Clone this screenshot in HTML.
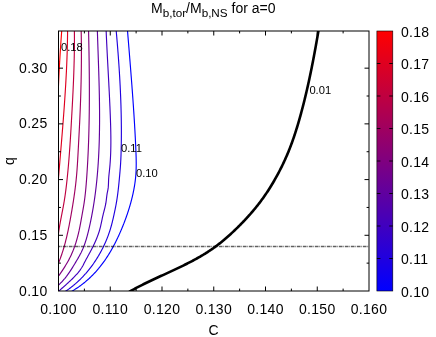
<!DOCTYPE html><html><head><meta charset="utf-8"><style>html,body{margin:0;padding:0;background:#fff}svg{display:block}svg{will-change:transform}text{font-family:"Liberation Sans",sans-serif;fill:#000}</style></head><body>
<svg width="436" height="337" viewBox="0 0 436 337">
<defs><linearGradient id="g" x1="0" y1="1" x2="0" y2="0"><stop offset="0" stop-color="#0000ff"/><stop offset="1" stop-color="#ff0000"/></linearGradient><clipPath id="cp"><rect x="58.50" y="31.00" width="310.50" height="260.00"/></clipPath></defs>
<rect width="436" height="337" fill="#fff"/>
<g fill="none" stroke-width="1.15" clip-path="url(#cp)">
<path d="M61.85 29.00 L61.83 29.30 L61.81 29.59 L61.78 29.89 L61.76 30.19 L61.74 30.48 L61.72 30.78 L61.69 31.08 L61.67 31.37 L61.65 31.67 L61.63 31.96 L61.61 32.26 L61.58 32.56 L61.56 32.85 L61.54 33.15 L61.52 33.45 L61.50 33.74 L61.48 34.04 L61.45 34.34 L61.43 34.63 L61.41 34.93 L61.39 35.23 L61.37 35.52 L61.35 35.82 L61.33 36.12 L61.31 36.41 L61.28 36.71 L61.26 37.01 L61.24 37.30 L61.22 37.60 L61.20 37.89 L61.18 38.19 L61.16 38.49 L61.14 38.78 L61.12 39.08 L61.10 39.38 L61.08 39.67 L61.05 39.97 L61.03 40.27 L61.01 40.56 L60.99 40.86 L60.97 41.16 L60.95 41.45 L60.93 41.75 L60.91 42.05 L60.89 42.34 L60.87 42.64 L60.85 42.93 L60.83 43.23 L60.81 43.53 L60.79 43.82 L60.77 44.12 L60.75 44.42 L60.73 44.71 L60.71 45.01 L60.69 45.31 L60.67 45.60 L60.65 45.90 L60.63 46.20 L60.61 46.49 L60.59 46.79 L60.57 47.09 L60.56 47.38 L60.54 47.68 L60.52 47.97 L60.50 48.27 L60.48 48.57 L60.46 48.86 L60.44 49.16 L60.42 49.46 L60.40 49.75 L60.38 50.05 L60.36 50.35 L60.35 50.64 L60.33 50.94 L60.31 51.24 L60.29 51.53 L60.27 51.83 L60.25 52.13 L60.23 52.42 L60.22 52.72 L60.20 53.02 L60.18 53.31 L60.16 53.61 L60.14 53.90 L60.12 54.20 L60.11 54.50 L60.09 54.79 L60.07 55.09 L60.05 55.39 L60.03 55.68 L60.02 55.98 L60.00 56.28 L59.98 56.57 L59.96 56.87 L59.94 57.17 L59.93 57.46 L59.91 57.76 L59.89 58.06 L59.87 58.35 L59.86 58.65 L59.84 58.94 L59.82 59.24 L59.80 59.54 L59.79 59.83 L59.77 60.13 L59.75 60.43 L59.73 60.72 L59.72 61.02 L59.70 61.32 L59.68 61.61 L59.67 61.91 L59.65 62.21 L59.63 62.50 L59.62 62.80 L59.60 63.10 L59.58 63.39 L59.57 63.69 L59.55 63.98 L59.53 64.28 L59.52 64.58 L59.50 64.87 L59.48 65.17 L59.47 65.47 L59.45 65.76 L59.43 66.06 L59.42 66.36 L59.40 66.65 L59.39 66.95 L59.37 67.25 L59.35 67.54 L59.34 67.84 L59.32 68.14 L59.31 68.43 L59.29 68.73 L59.28 69.03 L59.26 69.32 L59.24 69.62 L59.23 69.91 L59.21 70.21 L59.20 70.51 L59.18 70.80 L59.17 71.10 L59.15 71.40 L59.14 71.69 L59.12 71.99 L59.11 72.29 L59.09 72.58 L59.07 72.88 L59.06 73.18 L59.04 73.47 L59.03 73.77 L59.02 74.07 L59.00 74.36 L58.99 74.66 L58.97 74.95 L58.96 75.25 L58.94 75.55 L58.93 75.84 L58.91 76.14 L58.90 76.44 L58.88 76.73 L58.87 77.03 L58.85 77.33 L58.84 77.62 L58.83 77.92 L58.81 78.22 L58.80 78.51 L58.78 78.81 L58.77 79.11 L58.76 79.40 L58.74 79.70 L58.73 79.99 L58.71 80.29 L58.70 80.59 L58.69 80.88 L58.67 81.18 L58.66 81.48 L58.64 81.77 L58.63 82.07 L58.62 82.37 L58.60 82.66 L58.59 82.96 L58.58 83.26 L58.56 83.55 L58.55 83.85 L58.54 84.15 L58.52 84.44 L58.51 84.74 L58.50 85.04 L58.49 85.33 L58.47 85.63 L58.46 85.92 L58.45 86.22 L58.43 86.52 L58.42 86.81 L58.41 87.11 L58.40 87.41 L58.38 87.70 L58.37 88.00" stroke="#ff0000"/>
<path d="M67.60 29.00 L67.60 29.77 L67.59 30.53 L67.59 31.30 L67.58 32.07 L67.57 32.83 L67.57 33.60 L67.56 34.36 L67.55 35.13 L67.54 35.90 L67.53 36.66 L67.52 37.43 L67.50 38.20 L67.49 38.96 L67.48 39.73 L67.46 40.49 L67.45 41.26 L67.44 42.03 L67.42 42.79 L67.40 43.56 L67.39 44.33 L67.37 45.09 L67.35 45.86 L67.33 46.63 L67.31 47.39 L67.29 48.16 L67.27 48.92 L67.25 49.69 L67.23 50.46 L67.20 51.22 L67.18 51.99 L67.16 52.76 L67.13 53.52 L67.11 54.29 L67.08 55.06 L67.05 55.82 L67.03 56.59 L67.00 57.35 L66.97 58.12 L66.94 58.89 L66.91 59.65 L66.88 60.42 L66.85 61.19 L66.82 61.95 L66.79 62.72 L66.76 63.48 L66.73 64.25 L66.70 65.02 L66.66 65.78 L66.63 66.55 L66.59 67.32 L66.56 68.08 L66.52 68.85 L66.49 69.62 L66.45 70.38 L66.42 71.15 L66.38 71.91 L66.34 72.68 L66.30 73.45 L66.26 74.21 L66.22 74.98 L66.18 75.75 L66.14 76.51 L66.10 77.28 L66.06 78.05 L66.02 78.81 L65.98 79.58 L65.94 80.34 L65.89 81.11 L65.85 81.88 L65.81 82.64 L65.76 83.41 L65.72 84.18 L65.67 84.94 L65.63 85.71 L65.58 86.47 L65.54 87.24 L65.49 88.01 L65.44 88.77 L65.40 89.54 L65.35 90.31 L65.30 91.07 L65.25 91.84 L65.20 92.61 L65.15 93.37 L65.10 94.14 L65.06 94.90 L65.00 95.67 L64.95 96.44 L64.90 97.20 L64.85 97.97 L64.80 98.74 L64.75 99.50 L64.70 100.27 L64.64 101.04 L64.59 101.80 L64.54 102.57 L64.48 103.33 L64.43 104.10 L64.38 104.87 L64.32 105.63 L64.27 106.40 L64.21 107.17 L64.16 107.93 L64.10 108.70 L64.05 109.46 L63.99 110.23 L63.93 111.00 L63.88 111.76 L63.82 112.53 L63.76 113.30 L63.71 114.06 L63.65 114.83 L63.59 115.60 L63.53 116.36 L63.47 117.13 L63.42 117.89 L63.36 118.66 L63.30 119.43 L63.24 120.19 L63.18 120.96 L63.12 121.73 L63.06 122.49 L63.00 123.26 L62.94 124.03 L62.88 124.79 L62.82 125.56 L62.76 126.32 L62.70 127.09 L62.64 127.86 L62.58 128.62 L62.51 129.39 L62.45 130.16 L62.39 130.92 L62.33 131.69 L62.27 132.45 L62.21 133.22 L62.14 133.99 L62.08 134.75 L62.02 135.52 L61.96 136.29 L61.89 137.05 L61.83 137.82 L61.77 138.59 L61.70 139.35 L61.64 140.12 L61.58 140.88 L61.51 141.65 L61.45 142.42 L61.39 143.18 L61.32 143.95 L61.26 144.72 L61.20 145.48 L61.13 146.25 L61.07 147.02 L61.00 147.78 L60.94 148.55 L60.88 149.31 L60.81 150.08 L60.75 150.85 L60.68 151.61 L60.62 152.38 L60.56 153.15 L60.49 153.91 L60.43 154.68 L60.36 155.44 L60.30 156.21 L60.23 156.98 L60.17 157.74 L60.10 158.51 L60.04 159.28 L59.98 160.04 L59.91 160.81 L59.85 161.58 L59.78 162.34 L59.72 163.11 L59.65 163.87 L59.59 164.64 L59.53 165.41 L59.46 166.17 L59.40 166.94 L59.33 167.71 L59.27 168.47 L59.21 169.24 L59.14 170.01 L59.08 170.77 L59.01 171.54 L58.95 172.30 L58.89 173.07 L58.82 173.84 L58.76 174.60 L58.70 175.37 L58.63 176.14 L58.57 176.90 L58.51 177.67 L58.45 178.43 L58.38 179.20 L58.32 179.97 L58.26 180.73 L58.20 181.50" stroke="#df0020"/>
<path d="M74.34 27.82 L74.36 28.52 L74.37 29.23 L74.38 29.93 L74.38 30.63 L74.39 31.34 L74.40 32.04 L74.41 32.74 L74.41 33.45 L74.42 34.15 L74.42 34.86 L74.43 35.56 L74.43 36.27 L74.43 36.97 L74.43 37.67 L74.44 38.38 L74.44 39.08 L74.44 39.79 L74.44 40.49 L74.43 41.20 L74.43 41.90 L74.43 42.61 L74.43 43.31 L74.42 44.02 L74.42 44.72 L74.41 45.43 L74.41 46.13 L74.40 46.84 L74.39 47.54 L74.39 48.25 L74.38 48.95 L74.37 49.66 L74.36 50.36 L74.35 51.07 L74.34 51.77 L74.33 52.48 L74.32 53.18 L74.31 53.89 L74.29 54.59 L74.28 55.30 L74.27 56.01 L74.25 56.71 L74.24 57.42 L74.22 58.12 L74.21 58.83 L74.19 59.53 L74.18 60.24 L74.16 60.95 L74.14 61.65 L74.12 62.36 L74.10 63.06 L74.08 63.77 L74.06 64.47 L74.04 65.18 L74.02 65.89 L74.00 66.59 L73.98 67.30 L73.96 68.00 L73.94 68.71 L73.92 69.42 L73.89 70.12 L73.87 70.83 L73.84 71.53 L73.82 72.24 L73.80 72.95 L73.77 73.65 L73.74 74.36 L73.72 75.07 L73.69 75.77 L73.67 76.48 L73.64 77.18 L73.61 77.89 L73.58 78.60 L73.55 79.30 L73.53 80.01 L73.50 80.72 L73.47 81.42 L73.44 82.13 L73.41 82.83 L73.38 83.54 L73.35 84.25 L73.32 84.95 L73.29 85.66 L73.25 86.37 L73.22 87.07 L73.19 87.78 L73.16 88.48 L73.12 89.19 L73.09 89.90 L73.06 90.60 L73.03 91.31 L72.99 92.02 L72.96 92.72 L72.92 93.43 L72.89 94.14 L72.85 94.84 L72.82 95.55 L72.78 96.25 L72.75 96.96 L72.71 97.67 L72.68 98.37 L72.64 99.08 L72.60 99.79 L72.57 100.49 L72.53 101.20 L72.49 101.90 L72.46 102.61 L72.42 103.32 L72.38 104.02 L72.34 104.73 L72.31 105.44 L72.27 106.14 L72.23 106.85 L72.19 107.55 L72.15 108.26 L72.12 108.97 L72.08 109.67 L72.04 110.38 L72.00 111.08 L71.96 111.79 L71.92 112.50 L71.88 113.20 L71.84 113.91 L71.80 114.61 L71.76 115.32 L71.72 116.03 L71.68 116.73 L71.64 117.44 L71.60 118.14 L71.56 118.85 L71.52 119.56 L71.48 120.26 L71.44 120.97 L71.40 121.67 L71.36 122.38 L71.32 123.08 L71.28 123.79 L71.24 124.50 L71.20 125.20 L71.16 125.91 L71.12 126.61 L71.08 127.32 L71.04 128.02 L71.00 128.73 L70.96 129.43 L70.91 130.14 L70.87 130.84 L70.83 131.55 L70.79 132.25 L70.74 132.96 L70.70 133.66 L70.66 134.37 L70.62 135.07 L70.57 135.78 L70.53 136.48 L70.49 137.19 L70.44 137.89 L70.40 138.60 L70.35 139.30 L70.31 140.01 L70.26 140.71 L70.22 141.42 L70.17 142.12 L70.12 142.83 L70.08 143.53 L70.03 144.23 L69.98 144.94 L69.94 145.64 L69.89 146.35 L69.84 147.05 L69.79 147.76 L69.74 148.46 L69.69 149.16 L69.64 149.87 L69.59 150.57 L69.54 151.28 L69.49 151.98 L69.44 152.68 L69.39 153.39 L69.34 154.09 L69.28 154.79 L69.23 155.50 L69.18 156.20 L69.12 156.90 L69.07 157.61 L69.01 158.31 L68.96 159.01 L68.90 159.72 L68.84 160.42 L68.79 161.12 L68.73 161.82 L68.67 162.53 L68.61 163.23 L68.55 163.93 L68.49 164.64 L68.43 165.34 L68.37 166.04 L68.31 166.74 L68.24 167.45 L68.18 168.15 L68.12 168.85 L68.05 169.55 L67.99 170.25 L67.92 170.96 L67.86 171.66 L67.79 172.36 L67.72 173.06 L67.65 173.76 L67.58 174.46 L67.51 175.17 L67.44 175.87 L67.37 176.57 L67.30 177.27 L67.23 177.97 L67.16 178.67 L67.08 179.37 L67.01 180.07 L66.93 180.77 L66.85 181.47 L66.78 182.17 L66.70 182.88 L66.62 183.58 L66.54 184.28 L66.46 184.98 L66.38 185.68 L66.29 186.38 L66.21 187.08 L66.12 187.78 L66.04 188.48 L65.95 189.18 L65.86 189.87 L65.77 190.57 L65.68 191.27 L65.58 191.97 L65.49 192.67 L65.39 193.37 L65.30 194.07 L65.20 194.77 L65.10 195.47 L65.00 196.17 L64.89 196.86 L64.79 197.56 L64.68 198.26 L64.57 198.96 L64.46 199.66 L64.35 200.36 L64.23 201.05 L64.12 201.75 L64.00 202.45 L63.88 203.15 L63.76 203.84 L63.63 204.54 L63.51 205.24 L63.38 205.94 L63.26 206.63 L63.13 207.33 L63.00 208.03 L62.86 208.72 L62.73 209.42 L62.60 210.12 L62.46 210.81 L62.33 211.51 L62.20 212.21 L62.06 212.90 L61.93 213.60 L61.79 214.29 L61.65 214.99 L61.52 215.68 L61.38 216.38 L61.25 217.07 L61.12 217.77 L60.98 218.46 L60.85 219.16 L60.72 219.85 L60.59 220.55 L60.46 221.24 L60.33 221.94 L60.20 222.63 L60.08 223.33 L59.95 224.02 L59.83 224.71 L59.71 225.41 L59.59 226.10 L59.47 226.79 L59.36 227.49 L59.25 228.18 L59.14 228.87 L59.03 229.57 L58.93 230.26 L58.83 230.95 L58.73 231.65 L58.63 232.34 L58.54 233.03 L58.45 233.72 L58.36 234.41 L58.28 235.11 L58.20 235.80 L58.13 236.49 L58.05 237.18 L57.99 237.87" stroke="#bf0040"/>
<path d="M81.11 27.85 L81.13 28.65 L81.15 29.45 L81.17 30.25 L81.18 31.05 L81.20 31.85 L81.21 32.65 L81.23 33.45 L81.24 34.25 L81.26 35.05 L81.27 35.85 L81.28 36.66 L81.30 37.46 L81.31 38.26 L81.32 39.06 L81.33 39.86 L81.34 40.66 L81.35 41.47 L81.36 42.27 L81.36 43.07 L81.37 43.87 L81.38 44.67 L81.38 45.48 L81.39 46.28 L81.39 47.08 L81.40 47.89 L81.40 48.69 L81.41 49.49 L81.41 50.30 L81.41 51.10 L81.41 51.90 L81.41 52.71 L81.41 53.51 L81.41 54.32 L81.41 55.12 L81.41 55.92 L81.41 56.73 L81.41 57.53 L81.40 58.34 L81.40 59.14 L81.40 59.95 L81.39 60.75 L81.39 61.56 L81.38 62.36 L81.38 63.17 L81.37 63.97 L81.36 64.78 L81.35 65.59 L81.35 66.39 L81.34 67.20 L81.33 68.00 L81.32 68.81 L81.31 69.62 L81.30 70.42 L81.29 71.23 L81.28 72.03 L81.26 72.84 L81.25 73.65 L81.24 74.45 L81.22 75.26 L81.21 76.07 L81.19 76.87 L81.18 77.68 L81.16 78.49 L81.15 79.29 L81.13 80.10 L81.11 80.91 L81.10 81.72 L81.08 82.52 L81.06 83.33 L81.04 84.14 L81.02 84.94 L81.00 85.75 L80.98 86.56 L80.96 87.37 L80.94 88.17 L80.92 88.98 L80.90 89.79 L80.87 90.60 L80.85 91.40 L80.83 92.21 L80.80 93.02 L80.78 93.83 L80.75 94.64 L80.73 95.44 L80.70 96.25 L80.68 97.06 L80.65 97.87 L80.62 98.67 L80.60 99.48 L80.57 100.29 L80.54 101.10 L80.51 101.91 L80.48 102.71 L80.45 103.52 L80.42 104.33 L80.39 105.14 L80.36 105.95 L80.33 106.75 L80.30 107.56 L80.27 108.37 L80.24 109.18 L80.20 109.99 L80.17 110.79 L80.14 111.60 L80.10 112.41 L80.07 113.22 L80.03 114.03 L80.00 114.83 L79.96 115.64 L79.93 116.45 L79.89 117.26 L79.86 118.07 L79.82 118.87 L79.78 119.68 L79.74 120.49 L79.71 121.30 L79.67 122.10 L79.63 122.91 L79.59 123.72 L79.55 124.53 L79.51 125.33 L79.47 126.14 L79.43 126.95 L79.39 127.76 L79.35 128.56 L79.31 129.37 L79.27 130.18 L79.23 130.98 L79.19 131.79 L79.15 132.60 L79.10 133.41 L79.06 134.21 L79.02 135.02 L78.98 135.83 L78.94 136.63 L78.89 137.44 L78.85 138.25 L78.81 139.05 L78.77 139.86 L78.72 140.66 L78.68 141.47 L78.64 142.28 L78.59 143.08 L78.55 143.89 L78.51 144.69 L78.47 145.50 L78.42 146.31 L78.38 147.11 L78.34 147.92 L78.29 148.72 L78.25 149.53 L78.21 150.33 L78.17 151.14 L78.12 151.94 L78.08 152.75 L78.04 153.55 L77.99 154.36 L77.95 155.16 L77.90 155.97 L77.86 156.77 L77.81 157.57 L77.77 158.38 L77.72 159.18 L77.68 159.99 L77.63 160.79 L77.58 161.59 L77.53 162.40 L77.48 163.20 L77.43 164.00 L77.38 164.81 L77.32 165.61 L77.27 166.41 L77.21 167.21 L77.16 168.02 L77.10 168.82 L77.04 169.62 L76.98 170.42 L76.92 171.22 L76.86 172.03 L76.79 172.83 L76.73 173.63 L76.66 174.43 L76.59 175.23 L76.52 176.03 L76.44 176.83 L76.37 177.63 L76.29 178.43 L76.21 179.23 L76.13 180.03 L76.05 180.83 L75.97 181.63 L75.88 182.43 L75.79 183.23 L75.70 184.03 L75.61 184.83 L75.52 185.63 L75.42 186.43 L75.32 187.23 L75.22 188.03 L75.12 188.82 L75.02 189.62 L74.92 190.42 L74.81 191.22 L74.70 192.01 L74.59 192.81 L74.48 193.61 L74.37 194.40 L74.26 195.20 L74.14 196.00 L74.03 196.79 L73.91 197.59 L73.79 198.38 L73.67 199.18 L73.55 199.98 L73.43 200.77 L73.31 201.57 L73.18 202.36 L73.05 203.15 L72.93 203.95 L72.80 204.74 L72.67 205.54 L72.54 206.33 L72.41 207.12 L72.28 207.91 L72.14 208.71 L72.01 209.50 L71.88 210.29 L71.74 211.08 L71.60 211.88 L71.47 212.67 L71.33 213.46 L71.19 214.25 L71.05 215.04 L70.91 215.83 L70.77 216.62 L70.63 217.41 L70.49 218.20 L70.34 218.99 L70.20 219.78 L70.06 220.57 L69.91 221.36 L69.76 222.14 L69.61 222.93 L69.46 223.72 L69.31 224.51 L69.16 225.30 L69.00 226.08 L68.85 226.87 L68.69 227.66 L68.53 228.44 L68.37 229.23 L68.21 230.01 L68.04 230.80 L67.87 231.58 L67.70 232.37 L67.53 233.15 L67.36 233.94 L67.18 234.72 L67.00 235.50 L66.82 236.29 L66.64 237.07 L66.45 237.85 L66.26 238.63 L66.07 239.42 L65.87 240.20 L65.68 240.98 L65.47 241.76 L65.27 242.54 L65.06 243.32 L64.85 244.10 L64.64 244.88 L64.42 245.66 L64.20 246.44 L63.98 247.22 L63.75 248.00 L63.52 248.77 L63.28 249.55 L63.04 250.33 L62.80 251.11 L62.56 251.88 L62.30 252.66 L62.05 253.44 L61.79 254.21 L61.53 254.99 L61.26 255.76 L60.99 256.54 L60.71 257.31 L60.43 258.08 L60.15 258.86 L59.86 259.63 L59.56 260.40 L59.26 261.18 L58.96 261.95 L58.65 262.72 L58.33 263.49 L58.01 264.26 L57.69 265.03 L57.36 265.80 L57.02 266.57" stroke="#9f0060"/>
<path d="M88.51 27.94 L88.52 28.79 L88.54 29.63 L88.56 30.48 L88.58 31.32 L88.60 32.17 L88.62 33.02 L88.64 33.87 L88.65 34.71 L88.67 35.56 L88.69 36.41 L88.71 37.26 L88.73 38.11 L88.74 38.96 L88.76 39.81 L88.78 40.66 L88.80 41.51 L88.81 42.36 L88.83 43.22 L88.85 44.07 L88.86 44.92 L88.88 45.77 L88.89 46.63 L88.91 47.48 L88.93 48.34 L88.94 49.19 L88.96 50.04 L88.97 50.90 L88.99 51.75 L89.00 52.61 L89.02 53.47 L89.03 54.32 L89.04 55.18 L89.06 56.04 L89.07 56.89 L89.08 57.75 L89.10 58.61 L89.11 59.47 L89.12 60.32 L89.14 61.18 L89.15 62.04 L89.16 62.90 L89.17 63.76 L89.18 64.62 L89.19 65.48 L89.20 66.34 L89.21 67.20 L89.22 68.06 L89.23 68.92 L89.24 69.78 L89.25 70.65 L89.26 71.51 L89.27 72.37 L89.28 73.23 L89.29 74.09 L89.29 74.96 L89.30 75.82 L89.31 76.68 L89.32 77.54 L89.32 78.41 L89.33 79.27 L89.33 80.13 L89.34 81.00 L89.34 81.86 L89.35 82.73 L89.35 83.59 L89.36 84.45 L89.36 85.32 L89.36 86.18 L89.37 87.05 L89.37 87.91 L89.37 88.78 L89.37 89.64 L89.37 90.51 L89.37 91.38 L89.37 92.24 L89.37 93.11 L89.37 93.97 L89.37 94.84 L89.37 95.71 L89.37 96.57 L89.37 97.44 L89.36 98.30 L89.36 99.17 L89.36 100.04 L89.35 100.90 L89.35 101.77 L89.34 102.64 L89.34 103.50 L89.33 104.37 L89.33 105.24 L89.32 106.11 L89.31 106.97 L89.30 107.84 L89.30 108.71 L89.29 109.57 L89.28 110.44 L89.27 111.31 L89.26 112.18 L89.25 113.04 L89.24 113.91 L89.22 114.78 L89.21 115.65 L89.20 116.51 L89.19 117.38 L89.17 118.25 L89.16 119.12 L89.14 119.98 L89.13 120.85 L89.11 121.72 L89.09 122.59 L89.08 123.45 L89.06 124.32 L89.04 125.19 L89.02 126.05 L89.00 126.92 L88.98 127.79 L88.96 128.66 L88.94 129.52 L88.92 130.39 L88.90 131.26 L88.87 132.12 L88.85 132.99 L88.83 133.86 L88.80 134.72 L88.77 135.59 L88.75 136.46 L88.72 137.32 L88.69 138.19 L88.67 139.05 L88.64 139.92 L88.61 140.79 L88.58 141.65 L88.55 142.52 L88.52 143.38 L88.48 144.25 L88.45 145.11 L88.42 145.98 L88.38 146.84 L88.35 147.71 L88.32 148.57 L88.28 149.44 L88.24 150.30 L88.21 151.16 L88.17 152.03 L88.13 152.89 L88.09 153.76 L88.05 154.62 L88.01 155.48 L87.97 156.34 L87.92 157.21 L87.88 158.07 L87.84 158.93 L87.79 159.79 L87.75 160.66 L87.70 161.52 L87.65 162.38 L87.61 163.24 L87.56 164.10 L87.51 164.96 L87.46 165.82 L87.41 166.68 L87.36 167.54 L87.30 168.40 L87.25 169.26 L87.20 170.12 L87.14 170.98 L87.09 171.84 L87.03 172.70 L86.98 173.56 L86.92 174.41 L86.86 175.27 L86.80 176.13 L86.74 176.99 L86.68 177.84 L86.62 178.70 L86.55 179.56 L86.49 180.41 L86.43 181.27 L86.36 182.12 L86.29 182.98 L86.22 183.83 L86.16 184.69 L86.08 185.54 L86.01 186.39 L85.94 187.25 L85.86 188.10 L85.78 188.95 L85.70 189.80 L85.62 190.66 L85.54 191.51 L85.45 192.36 L85.36 193.21 L85.27 194.06 L85.17 194.91 L85.07 195.76 L84.97 196.61 L84.87 197.46 L84.76 198.30 L84.65 199.15 L84.54 200.00 L84.42 200.85 L84.30 201.69 L84.17 202.54 L84.05 203.39 L83.91 204.23 L83.78 205.08 L83.64 205.92 L83.50 206.76 L83.35 207.61 L83.21 208.45 L83.06 209.29 L82.91 210.14 L82.76 210.98 L82.61 211.82 L82.46 212.66 L82.31 213.50 L82.16 214.34 L82.01 215.18 L81.86 216.02 L81.71 216.86 L81.56 217.69 L81.41 218.53 L81.26 219.37 L81.11 220.20 L80.96 221.04 L80.81 221.87 L80.65 222.71 L80.50 223.54 L80.34 224.38 L80.18 225.21 L80.02 226.04 L79.86 226.88 L79.69 227.71 L79.52 228.54 L79.34 229.37 L79.17 230.20 L78.98 231.03 L78.80 231.86 L78.61 232.68 L78.41 233.51 L78.21 234.34 L78.01 235.16 L77.80 235.99 L77.59 236.81 L77.37 237.63 L77.15 238.46 L76.92 239.28 L76.68 240.10 L76.44 240.92 L76.20 241.74 L75.95 242.55 L75.69 243.37 L75.42 244.18 L75.15 245.00 L74.88 245.81 L74.59 246.62 L74.30 247.43 L74.00 248.23 L73.70 249.04 L73.39 249.85 L73.07 250.65 L72.74 251.45 L72.41 252.25 L72.07 253.05 L71.72 253.85 L71.36 254.64 L70.99 255.43 L70.62 256.23 L70.24 257.01 L69.84 257.80 L69.44 258.59 L69.04 259.37 L68.62 260.15 L68.20 260.93 L67.77 261.71 L67.33 262.49 L66.89 263.26 L66.43 264.03 L65.98 264.80 L65.51 265.57 L65.04 266.33 L64.57 267.09 L64.09 267.85 L63.60 268.61 L63.11 269.36 L62.62 270.12 L62.12 270.87 L61.61 271.61 L61.10 272.36 L60.59 273.10 L60.07 273.84 L59.56 274.57 L59.03 275.31 L58.51 276.04 L57.98 276.77 L57.45 277.49 L56.92 278.21 L56.38 278.93 L55.84 279.65" stroke="#80007f"/>
<path d="M97.29 27.99 L97.31 28.87 L97.34 29.76 L97.37 30.64 L97.39 31.52 L97.42 32.41 L97.45 33.30 L97.48 34.18 L97.51 35.07 L97.53 35.96 L97.56 36.84 L97.59 37.73 L97.62 38.62 L97.65 39.51 L97.68 40.40 L97.71 41.29 L97.74 42.18 L97.77 43.07 L97.80 43.96 L97.83 44.86 L97.86 45.75 L97.89 46.64 L97.92 47.54 L97.95 48.43 L97.98 49.32 L98.01 50.22 L98.05 51.11 L98.08 52.01 L98.11 52.91 L98.14 53.80 L98.17 54.70 L98.20 55.60 L98.23 56.49 L98.26 57.39 L98.29 58.29 L98.32 59.19 L98.35 60.09 L98.38 60.99 L98.41 61.89 L98.44 62.79 L98.47 63.69 L98.50 64.59 L98.53 65.49 L98.56 66.39 L98.59 67.29 L98.62 68.19 L98.65 69.09 L98.68 70.00 L98.71 70.90 L98.74 71.80 L98.77 72.71 L98.79 73.61 L98.82 74.51 L98.85 75.42 L98.87 76.32 L98.90 77.23 L98.93 78.13 L98.95 79.04 L98.98 79.94 L99.00 80.85 L99.03 81.75 L99.05 82.66 L99.08 83.57 L99.10 84.47 L99.12 85.38 L99.15 86.29 L99.17 87.19 L99.19 88.10 L99.21 89.01 L99.23 89.92 L99.25 90.82 L99.27 91.73 L99.29 92.64 L99.31 93.55 L99.33 94.46 L99.35 95.36 L99.37 96.27 L99.38 97.18 L99.40 98.09 L99.41 99.00 L99.43 99.91 L99.44 100.82 L99.46 101.73 L99.47 102.64 L99.48 103.55 L99.49 104.46 L99.50 105.37 L99.51 106.28 L99.52 107.19 L99.53 108.10 L99.54 109.01 L99.55 109.92 L99.55 110.83 L99.56 111.74 L99.56 112.65 L99.57 113.56 L99.57 114.47 L99.57 115.38 L99.58 116.29 L99.58 117.20 L99.58 118.11 L99.57 119.02 L99.57 119.93 L99.57 120.84 L99.57 121.75 L99.56 122.66 L99.56 123.57 L99.55 124.48 L99.54 125.39 L99.53 126.30 L99.52 127.21 L99.51 128.12 L99.50 129.03 L99.49 129.94 L99.48 130.85 L99.46 131.76 L99.45 132.67 L99.43 133.58 L99.41 134.48 L99.39 135.39 L99.37 136.30 L99.35 137.21 L99.33 138.12 L99.31 139.03 L99.28 139.94 L99.26 140.85 L99.23 141.75 L99.20 142.66 L99.17 143.57 L99.14 144.48 L99.11 145.39 L99.08 146.29 L99.04 147.20 L99.01 148.11 L98.97 149.01 L98.93 149.92 L98.89 150.83 L98.85 151.73 L98.81 152.64 L98.77 153.55 L98.72 154.45 L98.67 155.36 L98.63 156.26 L98.58 157.17 L98.53 158.07 L98.48 158.98 L98.42 159.88 L98.37 160.78 L98.31 161.69 L98.26 162.59 L98.20 163.50 L98.14 164.40 L98.07 165.30 L98.01 166.20 L97.95 167.10 L97.88 168.01 L97.81 168.91 L97.74 169.81 L97.67 170.71 L97.60 171.61 L97.52 172.51 L97.45 173.41 L97.37 174.31 L97.29 175.21 L97.21 176.11 L97.13 177.00 L97.04 177.90 L96.96 178.80 L96.87 179.70 L96.78 180.59 L96.69 181.49 L96.60 182.39 L96.50 183.28 L96.41 184.18 L96.31 185.07 L96.21 185.97 L96.11 186.86 L96.01 187.75 L95.90 188.65 L95.79 189.54 L95.68 190.43 L95.57 191.32 L95.46 192.21 L95.35 193.11 L95.23 194.00 L95.11 194.89 L94.99 195.77 L94.87 196.66 L94.75 197.55 L94.62 198.44 L94.49 199.33 L94.36 200.21 L94.23 201.10 L94.10 201.99 L93.96 202.87 L93.82 203.76 L93.68 204.64 L93.54 205.52 L93.40 206.41 L93.25 207.29 L93.11 208.17 L92.95 209.05 L92.80 209.94 L92.65 210.82 L92.49 211.70 L92.33 212.57 L92.17 213.45 L92.01 214.33 L91.84 215.21 L91.68 216.09 L91.51 216.96 L91.34 217.84 L91.16 218.71 L90.99 219.59 L90.81 220.46 L90.63 221.33 L90.44 222.21 L90.26 223.08 L90.07 223.95 L89.88 224.82 L89.69 225.69 L89.49 226.56 L89.30 227.43 L89.10 228.29 L88.90 229.16 L88.69 230.03 L88.48 230.89 L88.27 231.76 L88.06 232.62 L87.84 233.48 L87.62 234.35 L87.40 235.21 L87.17 236.07 L86.93 236.93 L86.69 237.78 L86.44 238.64 L86.19 239.50 L85.93 240.35 L85.66 241.20 L85.38 242.05 L85.10 242.90 L84.81 243.75 L84.51 244.59 L84.20 245.44 L83.88 246.28 L83.55 247.12 L83.21 247.96 L82.86 248.80 L82.49 249.63 L82.12 250.46 L81.73 251.29 L81.34 252.12 L80.93 252.95 L80.50 253.77 L80.07 254.59 L79.63 255.41 L79.18 256.22 L78.72 257.04 L78.26 257.85 L77.80 258.66 L77.33 259.46 L76.85 260.26 L76.38 261.06 L75.91 261.86 L75.44 262.65 L74.97 263.44 L74.50 264.23 L74.02 265.01 L73.55 265.79 L73.08 266.57 L72.60 267.34 L72.12 268.12 L71.64 268.88 L71.15 269.65 L70.66 270.41 L70.16 271.16 L69.66 271.91 L69.15 272.66 L68.63 273.41 L68.10 274.15 L67.57 274.89 L67.03 275.62 L66.48 276.35 L65.91 277.07 L65.34 277.79 L64.76 278.51 L64.16 279.22 L63.55 279.93 L62.93 280.63 L62.29 281.33 L61.64 282.02 L60.98 282.71 L60.30 283.40 L59.60 284.08 L58.88 284.75 L58.15 285.42 L57.40 286.09 L56.63 286.75 L55.85 287.40 L55.04 288.05" stroke="#60009f"/>
<path d="M106.04 28.02 L106.08 28.93 L106.12 29.85 L106.15 30.76 L106.19 31.68 L106.23 32.60 L106.27 33.51 L106.30 34.43 L106.34 35.35 L106.38 36.27 L106.42 37.19 L106.47 38.11 L106.51 39.03 L106.55 39.95 L106.59 40.88 L106.64 41.80 L106.68 42.72 L106.72 43.65 L106.77 44.57 L106.81 45.50 L106.86 46.42 L106.90 47.35 L106.95 48.27 L106.99 49.20 L107.04 50.13 L107.09 51.06 L107.13 51.99 L107.18 52.91 L107.23 53.84 L107.28 54.77 L107.32 55.70 L107.37 56.63 L107.42 57.57 L107.47 58.50 L107.52 59.43 L107.57 60.36 L107.62 61.29 L107.67 62.23 L107.72 63.16 L107.77 64.09 L107.82 65.03 L107.87 65.96 L107.92 66.90 L107.97 67.83 L108.02 68.77 L108.07 69.70 L108.12 70.64 L108.17 71.58 L108.22 72.51 L108.27 73.45 L108.32 74.39 L108.37 75.33 L108.42 76.26 L108.47 77.20 L108.52 78.14 L108.57 79.08 L108.62 80.02 L108.67 80.96 L108.72 81.90 L108.77 82.84 L108.82 83.78 L108.86 84.72 L108.91 85.66 L108.96 86.60 L109.01 87.54 L109.06 88.48 L109.11 89.42 L109.15 90.36 L109.20 91.31 L109.25 92.25 L109.30 93.19 L109.34 94.13 L109.39 95.07 L109.44 96.02 L109.48 96.96 L109.53 97.90 L109.57 98.84 L109.62 99.79 L109.66 100.73 L109.70 101.67 L109.75 102.62 L109.79 103.56 L109.83 104.50 L109.87 105.45 L109.92 106.39 L109.96 107.33 L110.00 108.28 L110.04 109.22 L110.08 110.16 L110.11 111.11 L110.15 112.05 L110.19 112.99 L110.23 113.94 L110.26 114.88 L110.30 115.83 L110.33 116.77 L110.37 117.71 L110.40 118.66 L110.44 119.60 L110.47 120.54 L110.50 121.49 L110.53 122.43 L110.56 123.37 L110.59 124.32 L110.62 125.26 L110.65 126.20 L110.67 127.14 L110.70 128.09 L110.72 129.03 L110.74 129.97 L110.76 130.92 L110.78 131.86 L110.80 132.80 L110.81 133.74 L110.83 134.68 L110.84 135.63 L110.85 136.57 L110.86 137.51 L110.87 138.45 L110.87 139.39 L110.87 140.33 L110.87 141.27 L110.87 142.21 L110.87 143.15 L110.86 144.09 L110.85 145.03 L110.84 145.97 L110.83 146.91 L110.81 147.85 L110.79 148.79 L110.77 149.73 L110.75 150.67 L110.72 151.61 L110.69 152.54 L110.66 153.48 L110.62 154.42 L110.58 155.35 L110.54 156.29 L110.49 157.23 L110.44 158.16 L110.39 159.10 L110.33 160.03 L110.27 160.97 L110.21 161.90 L110.14 162.84 L110.07 163.77 L110.00 164.70 L109.92 165.64 L109.83 166.57 L109.75 167.50 L109.66 168.43 L109.56 169.37 L109.47 170.30 L109.37 171.23 L109.26 172.16 L109.16 173.09 L109.07 174.02 L108.97 174.95 L108.88 175.87 L108.80 176.80 L108.73 177.73 L108.67 178.66 L108.61 179.58 L108.57 180.51 L108.54 181.44 L108.51 182.36 L108.48 183.28 L108.45 184.21 L108.40 185.13 L108.35 186.06 L108.27 186.98 L108.18 187.90 L108.05 188.82 L107.90 189.74 L107.72 190.66 L107.52 191.58 L107.33 192.50 L107.16 193.42 L107.01 194.34 L106.88 195.25 L106.76 196.17 L106.65 197.09 L106.54 198.00 L106.43 198.92 L106.32 199.83 L106.21 200.74 L106.08 201.66 L105.94 202.57 L105.79 203.48 L105.61 204.39 L105.43 205.30 L105.23 206.21 L105.02 207.12 L104.80 208.03 L104.57 208.94 L104.34 209.84 L104.11 210.75 L103.88 211.65 L103.64 212.56 L103.41 213.46 L103.19 214.36 L102.97 215.27 L102.76 216.17 L102.56 217.07 L102.37 217.97 L102.17 218.87 L101.99 219.77 L101.80 220.66 L101.61 221.56 L101.43 222.46 L101.24 223.35 L101.04 224.24 L100.84 225.14 L100.64 226.03 L100.43 226.92 L100.21 227.81 L99.98 228.70 L99.73 229.59 L99.48 230.48 L99.21 231.37 L98.93 232.25 L98.64 233.14 L98.34 234.02 L98.02 234.91 L97.70 235.79 L97.37 236.67 L97.02 237.55 L96.67 238.42 L96.31 239.30 L95.94 240.17 L95.56 241.04 L95.17 241.91 L94.78 242.78 L94.38 243.65 L93.97 244.51 L93.55 245.37 L93.13 246.23 L92.71 247.09 L92.28 247.94 L91.84 248.79 L91.40 249.64 L90.96 250.49 L90.51 251.33 L90.07 252.17 L89.61 253.01 L89.16 253.85 L88.70 254.68 L88.25 255.51 L87.80 256.33 L87.35 257.16 L86.90 257.98 L86.45 258.79 L86.02 259.60 L85.58 260.41 L85.16 261.22 L84.74 262.02 L84.34 262.82 L83.94 263.61 L83.54 264.40 L83.14 265.18 L82.72 265.96 L82.27 266.74 L81.81 267.51 L81.32 268.28 L80.80 269.05 L80.27 269.80 L79.72 270.56 L79.14 271.31 L78.55 272.05 L77.95 272.79 L77.32 273.53 L76.69 274.26 L76.04 274.99 L75.37 275.71 L74.70 276.42 L74.02 277.13 L73.32 277.83 L72.62 278.53 L71.92 279.23 L71.20 279.91 L70.49 280.60 L69.77 281.27 L69.04 281.94 L68.32 282.61 L67.60 283.26 L66.88 283.92 L66.16 284.56 L65.44 285.20 L64.73 285.84 L64.02 286.46 L63.32 287.08 L62.63 287.70 L61.94 288.30 L61.27 288.91 L60.61 289.50 L59.96 290.09 L59.32 290.67 L58.70 291.24 L58.09 291.80 L57.50 292.36" stroke="#4000bf"/>
<path d="M115.95 28.04 L116.04 28.95 L116.12 29.87 L116.20 30.79 L116.28 31.71 L116.37 32.63 L116.45 33.55 L116.53 34.47 L116.61 35.40 L116.69 36.32 L116.77 37.24 L116.85 38.17 L116.93 39.09 L117.01 40.02 L117.08 40.95 L117.16 41.87 L117.24 42.80 L117.32 43.73 L117.39 44.66 L117.47 45.59 L117.54 46.52 L117.62 47.45 L117.69 48.38 L117.77 49.32 L117.84 50.25 L117.91 51.18 L117.98 52.12 L118.06 53.05 L118.13 53.99 L118.20 54.92 L118.27 55.86 L118.34 56.80 L118.40 57.74 L118.47 58.67 L118.54 59.61 L118.61 60.55 L118.67 61.49 L118.74 62.43 L118.80 63.37 L118.87 64.31 L118.93 65.26 L119.00 66.20 L119.06 67.14 L119.12 68.08 L119.18 69.03 L119.24 69.97 L119.30 70.92 L119.36 71.86 L119.42 72.81 L119.48 73.75 L119.53 74.70 L119.59 75.64 L119.65 76.59 L119.70 77.54 L119.75 78.49 L119.81 79.43 L119.86 80.38 L119.91 81.33 L119.96 82.28 L120.01 83.23 L120.06 84.18 L120.11 85.13 L120.16 86.08 L120.21 87.03 L120.25 87.98 L120.30 88.93 L120.34 89.88 L120.39 90.83 L120.43 91.78 L120.47 92.74 L120.51 93.69 L120.55 94.64 L120.59 95.59 L120.63 96.54 L120.67 97.50 L120.71 98.45 L120.74 99.40 L120.78 100.36 L120.81 101.31 L120.84 102.26 L120.88 103.22 L120.91 104.17 L120.94 105.13 L120.97 106.08 L120.99 107.03 L121.02 107.99 L121.05 108.94 L121.07 109.90 L121.10 110.85 L121.12 111.81 L121.14 112.76 L121.17 113.72 L121.19 114.67 L121.21 115.63 L121.22 116.58 L121.24 117.54 L121.26 118.49 L121.27 119.45 L121.29 120.40 L121.30 121.36 L121.31 122.31 L121.32 123.27 L121.33 124.22 L121.34 125.17 L121.35 126.13 L121.36 127.08 L121.36 128.04 L121.37 128.99 L121.37 129.95 L121.37 130.90 L121.37 131.86 L121.37 132.81 L121.37 133.76 L121.37 134.72 L121.36 135.67 L121.36 136.62 L121.35 137.58 L121.34 138.53 L121.34 139.48 L121.33 140.43 L121.31 141.39 L121.30 142.34 L121.29 143.29 L121.27 144.24 L121.26 145.19 L121.24 146.15 L121.22 147.10 L121.20 148.05 L121.18 149.00 L121.16 149.95 L121.13 150.90 L121.11 151.85 L121.08 152.80 L121.05 153.75 L121.02 154.70 L120.99 155.64 L120.95 156.59 L120.91 157.54 L120.87 158.49 L120.83 159.43 L120.78 160.38 L120.73 161.33 L120.67 162.27 L120.62 163.22 L120.56 164.16 L120.49 165.11 L120.43 166.05 L120.36 167.00 L120.29 167.94 L120.21 168.88 L120.13 169.83 L120.06 170.77 L119.98 171.71 L119.90 172.65 L119.81 173.59 L119.73 174.53 L119.65 175.47 L119.56 176.41 L119.48 177.35 L119.39 178.29 L119.31 179.22 L119.22 180.16 L119.13 181.10 L119.04 182.03 L118.95 182.97 L118.86 183.90 L118.76 184.84 L118.67 185.77 L118.57 186.71 L118.47 187.64 L118.36 188.57 L118.26 189.50 L118.15 190.43 L118.04 191.36 L117.93 192.29 L117.81 193.22 L117.69 194.15 L117.56 195.07 L117.44 196.00 L117.30 196.93 L117.17 197.85 L117.03 198.78 L116.89 199.70 L116.74 200.62 L116.59 201.54 L116.43 202.47 L116.27 203.39 L116.10 204.31 L115.93 205.23 L115.76 206.14 L115.58 207.06 L115.40 207.98 L115.22 208.89 L115.03 209.81 L114.84 210.72 L114.65 211.64 L114.45 212.55 L114.25 213.46 L114.06 214.37 L113.86 215.28 L113.66 216.19 L113.45 217.10 L113.25 218.01 L113.04 218.92 L112.83 219.82 L112.61 220.73 L112.39 221.63 L112.17 222.53 L111.94 223.43 L111.71 224.34 L111.47 225.24 L111.22 226.14 L110.97 227.03 L110.71 227.93 L110.44 228.83 L110.16 229.72 L109.88 230.62 L109.59 231.51 L109.29 232.40 L108.99 233.29 L108.68 234.18 L108.36 235.07 L108.03 235.96 L107.69 236.84 L107.35 237.72 L107.00 238.60 L106.65 239.48 L106.28 240.36 L105.91 241.24 L105.54 242.11 L105.15 242.98 L104.76 243.85 L104.36 244.71 L103.96 245.58 L103.55 246.44 L103.13 247.30 L102.70 248.15 L102.27 249.01 L101.83 249.86 L101.39 250.70 L100.94 251.55 L100.48 252.39 L100.01 253.22 L99.54 254.06 L99.06 254.89 L98.58 255.71 L98.08 256.53 L97.59 257.35 L97.08 258.17 L96.57 258.98 L96.05 259.79 L95.53 260.59 L95.00 261.39 L94.47 262.18 L93.92 262.97 L93.38 263.76 L92.82 264.54 L92.26 265.31 L91.69 266.09 L91.12 266.85 L90.54 267.61 L89.96 268.37 L89.37 269.12 L88.77 269.87 L88.17 270.61 L87.56 271.34 L86.95 272.07 L86.33 272.80 L85.71 273.52 L85.07 274.23 L84.44 274.94 L83.80 275.64 L83.15 276.33 L82.50 277.02 L81.84 277.71 L81.17 278.38 L80.50 279.05 L79.83 279.72 L79.15 280.37 L78.46 281.03 L77.77 281.67 L77.07 282.31 L76.37 282.94 L75.67 283.56 L74.95 284.18 L74.24 284.78 L73.52 285.39 L72.79 285.98 L72.06 286.57 L71.32 287.15 L70.58 287.72 L69.83 288.28 L69.08 288.84 L68.32 289.39 L67.56 289.93 L66.79 290.46 L66.02 290.98 L65.24 291.50 L64.46 292.01 L63.68 292.50" stroke="#2000df"/>
<path d="M127.30 28.10 L127.38 29.02 L127.45 29.94 L127.52 30.86 L127.60 31.78 L127.67 32.71 L127.75 33.63 L127.82 34.56 L127.90 35.49 L127.97 36.42 L128.05 37.35 L128.13 38.28 L128.20 39.21 L128.28 40.14 L128.35 41.07 L128.43 42.01 L128.51 42.94 L128.58 43.88 L128.66 44.82 L128.74 45.75 L128.81 46.69 L128.89 47.63 L128.97 48.57 L129.04 49.51 L129.12 50.46 L129.20 51.40 L129.27 52.34 L129.35 53.29 L129.43 54.23 L129.50 55.18 L129.58 56.12 L129.66 57.07 L129.73 58.02 L129.81 58.97 L129.89 59.92 L129.96 60.87 L130.04 61.82 L130.12 62.77 L130.19 63.72 L130.27 64.68 L130.35 65.63 L130.42 66.58 L130.50 67.54 L130.57 68.49 L130.65 69.45 L130.73 70.40 L130.80 71.36 L130.88 72.32 L130.95 73.28 L131.03 74.24 L131.10 75.19 L131.18 76.15 L131.25 77.11 L131.33 78.07 L131.40 79.04 L131.48 80.00 L131.55 80.96 L131.62 81.92 L131.70 82.88 L131.77 83.85 L131.84 84.81 L131.92 85.77 L131.99 86.74 L132.06 87.70 L132.13 88.67 L132.21 89.63 L132.28 90.60 L132.35 91.56 L132.42 92.53 L132.49 93.50 L132.56 94.46 L132.63 95.43 L132.70 96.40 L132.77 97.37 L132.84 98.33 L132.91 99.30 L132.98 100.27 L133.05 101.24 L133.11 102.21 L133.18 103.18 L133.25 104.14 L133.32 105.11 L133.38 106.08 L133.45 107.05 L133.51 108.02 L133.58 108.99 L133.64 109.96 L133.71 110.93 L133.77 111.90 L133.84 112.87 L133.90 113.84 L133.96 114.81 L134.02 115.78 L134.08 116.75 L134.15 117.72 L134.21 118.69 L134.27 119.66 L134.33 120.63 L134.39 121.60 L134.44 122.57 L134.50 123.54 L134.56 124.51 L134.62 125.48 L134.67 126.45 L134.73 127.41 L134.78 128.38 L134.84 129.35 L134.89 130.32 L134.95 131.29 L135.00 132.26 L135.05 133.23 L135.11 134.19 L135.16 135.16 L135.21 136.13 L135.26 137.10 L135.31 138.06 L135.36 139.03 L135.40 140.00 L135.45 140.96 L135.50 141.93 L135.54 142.90 L135.59 143.86 L135.64 144.83 L135.68 145.79 L135.72 146.76 L135.77 147.72 L135.81 148.68 L135.85 149.65 L135.89 150.61 L135.93 151.57 L135.97 152.53 L136.00 153.49 L136.04 154.46 L136.07 155.42 L136.10 156.38 L136.13 157.34 L136.15 158.29 L136.17 159.25 L136.19 160.21 L136.20 161.17 L136.21 162.13 L136.22 163.08 L136.22 164.04 L136.21 164.99 L136.20 165.95 L136.19 166.90 L136.17 167.86 L136.14 168.81 L136.11 169.76 L136.07 170.71 L136.03 171.66 L135.98 172.61 L135.92 173.56 L135.86 174.51 L135.78 175.46 L135.70 176.41 L135.61 177.36 L135.52 178.30 L135.41 179.25 L135.30 180.19 L135.19 181.14 L135.06 182.08 L134.93 183.02 L134.79 183.96 L134.65 184.90 L134.50 185.84 L134.34 186.78 L134.18 187.72 L134.01 188.66 L133.83 189.59 L133.65 190.53 L133.46 191.46 L133.27 192.40 L133.07 193.33 L132.87 194.26 L132.66 195.19 L132.45 196.12 L132.23 197.05 L132.00 197.98 L131.78 198.90 L131.54 199.83 L131.30 200.75 L131.06 201.68 L130.81 202.60 L130.55 203.52 L130.29 204.44 L130.03 205.36 L129.76 206.28 L129.49 207.20 L129.21 208.11 L128.93 209.03 L128.64 209.94 L128.35 210.85 L128.05 211.77 L127.76 212.68 L127.45 213.59 L127.14 214.49 L126.83 215.40 L126.51 216.31 L126.19 217.21 L125.87 218.11 L125.54 219.02 L125.21 219.92 L124.87 220.82 L124.53 221.71 L124.18 222.61 L123.84 223.51 L123.48 224.40 L123.13 225.29 L122.77 226.18 L122.41 227.07 L122.04 227.96 L121.67 228.85 L121.30 229.74 L120.92 230.62 L120.54 231.50 L120.16 232.38 L119.77 233.26 L119.38 234.14 L118.99 235.02 L118.59 235.89 L118.18 236.76 L117.78 237.63 L117.37 238.50 L116.95 239.36 L116.53 240.22 L116.11 241.09 L115.68 241.94 L115.25 242.80 L114.81 243.65 L114.37 244.50 L113.92 245.35 L113.47 246.19 L113.01 247.03 L112.55 247.87 L112.09 248.71 L111.62 249.54 L111.14 250.37 L110.66 251.20 L110.18 252.02 L109.68 252.84 L109.19 253.66 L108.69 254.47 L108.18 255.28 L107.67 256.08 L107.15 256.89 L106.63 257.68 L106.10 258.48 L105.56 259.27 L105.02 260.05 L104.48 260.84 L103.92 261.61 L103.36 262.39 L102.80 263.16 L102.23 263.92 L101.65 264.68 L101.07 265.44 L100.48 266.19 L99.89 266.94 L99.28 267.68 L98.68 268.42 L98.06 269.15 L97.44 269.88 L96.81 270.60 L96.18 271.32 L95.54 272.03 L94.89 272.74 L94.23 273.44 L93.57 274.14 L92.90 274.83 L92.23 275.52 L91.54 276.20 L90.85 276.87 L90.15 277.54 L89.45 278.21 L88.74 278.87 L88.02 279.52 L87.29 280.16 L86.55 280.80 L85.81 281.44 L85.06 282.07 L84.30 282.69 L83.54 283.30 L82.76 283.91 L81.98 284.51 L81.19 285.11 L80.39 285.70 L79.58 286.28 L78.77 286.86 L77.95 287.43 L77.12 287.99 L76.28 288.55 L75.43 289.09 L74.57 289.64 L73.71 290.17 L72.83 290.70 L71.95 291.22 L71.06 291.73 L70.16 292.23 L69.25 292.73" stroke="#0000ff"/>
</g>
<path d="M319.09 26.99 L318.90 28.13 L318.71 29.26 L318.52 30.40 L318.32 31.53 L318.13 32.67 L317.94 33.81 L317.74 34.94 L317.55 36.08 L317.35 37.22 L317.15 38.36 L316.95 39.50 L316.75 40.65 L316.55 41.79 L316.35 42.93 L316.15 44.07 L315.94 45.22 L315.74 46.36 L315.53 47.51 L315.32 48.65 L315.11 49.80 L314.90 50.94 L314.69 52.09 L314.48 53.23 L314.27 54.38 L314.05 55.53 L313.84 56.67 L313.62 57.82 L313.40 58.97 L313.18 60.12 L312.96 61.26 L312.73 62.41 L312.51 63.56 L312.28 64.71 L312.06 65.86 L311.83 67.01 L311.60 68.15 L311.37 69.30 L311.13 70.45 L310.90 71.60 L310.66 72.75 L310.42 73.89 L310.18 75.04 L309.94 76.19 L309.70 77.34 L309.46 78.48 L309.21 79.63 L308.96 80.78 L308.71 81.92 L308.46 83.07 L308.21 84.21 L307.95 85.36 L307.69 86.50 L307.44 87.65 L307.17 88.79 L306.91 89.94 L306.65 91.08 L306.38 92.22 L306.11 93.36 L305.84 94.50 L305.57 95.65 L305.30 96.79 L305.02 97.93 L304.74 99.06 L304.46 100.20 L304.18 101.34 L303.89 102.48 L303.61 103.61 L303.32 104.75 L303.03 105.88 L302.73 107.02 L302.44 108.15 L302.14 109.28 L301.84 110.41 L301.54 111.54 L301.23 112.67 L300.93 113.80 L300.62 114.93 L300.31 116.05 L299.99 117.18 L299.68 118.30 L299.36 119.42 L299.04 120.55 L298.71 121.67 L298.39 122.78 L298.06 123.90 L297.72 125.02 L297.39 126.14 L297.05 127.25 L296.71 128.36 L296.36 129.47 L296.01 130.59 L295.66 131.69 L295.30 132.80 L294.94 133.91 L294.58 135.01 L294.21 136.12 L293.84 137.22 L293.46 138.32 L293.08 139.42 L292.70 140.51 L292.31 141.61 L291.91 142.70 L291.51 143.80 L291.11 144.89 L290.70 145.98 L290.28 147.06 L289.86 148.15 L289.44 149.23 L289.00 150.32 L288.57 151.40 L288.13 152.47 L287.68 153.55 L287.22 154.63 L286.76 155.70 L286.30 156.77 L285.83 157.84 L285.35 158.90 L284.87 159.97 L284.38 161.03 L283.89 162.09 L283.39 163.15 L282.89 164.20 L282.38 165.26 L281.87 166.31 L281.35 167.36 L280.82 168.40 L280.30 169.44 L279.76 170.48 L279.23 171.52 L278.68 172.56 L278.13 173.59 L277.58 174.62 L277.03 175.65 L276.46 176.67 L275.90 177.69 L275.33 178.71 L274.75 179.73 L274.17 180.74 L273.58 181.75 L272.99 182.76 L272.39 183.76 L271.79 184.76 L271.18 185.76 L270.57 186.75 L269.95 187.74 L269.33 188.73 L268.70 189.71 L268.07 190.69 L267.43 191.67 L266.78 192.64 L266.13 193.61 L265.48 194.58 L264.82 195.54 L264.15 196.50 L263.48 197.46 L262.80 198.41 L262.11 199.36 L261.42 200.30 L260.72 201.24 L260.02 202.18 L259.31 203.11 L258.60 204.03 L257.88 204.96 L257.15 205.88 L256.42 206.79 L255.68 207.71 L254.94 208.61 L254.19 209.52 L253.44 210.42 L252.68 211.31 L251.92 212.20 L251.15 213.09 L250.38 213.98 L249.60 214.85 L248.82 215.73 L248.04 216.60 L247.25 217.47 L246.45 218.33 L245.66 219.19 L244.86 220.04 L244.05 220.90 L243.24 221.74 L242.43 222.58 L241.62 223.42 L240.80 224.26 L239.98 225.09 L239.16 225.91 L238.33 226.73 L237.50 227.55 L236.67 228.37 L235.83 229.17 L235.00 229.98 L234.16 230.78 L233.32 231.58 L232.47 232.37 L231.63 233.16 L230.78 233.94 L229.92 234.72 L229.07 235.49 L228.21 236.26 L227.35 237.02 L226.48 237.78 L225.61 238.53 L224.74 239.28 L223.86 240.02 L222.98 240.75 L222.09 241.48 L221.20 242.21 L220.30 242.93 L219.40 243.64 L218.50 244.34 L217.59 245.04 L216.67 245.74 L215.75 246.42 L214.83 247.10 L213.89 247.77 L212.96 248.44 L212.01 249.10 L211.06 249.75 L210.11 250.40 L209.15 251.04 L208.18 251.67 L207.21 252.30 L206.24 252.92 L205.26 253.53 L204.27 254.14 L203.28 254.74 L202.28 255.34 L201.28 255.93 L200.28 256.52 L199.27 257.10 L198.26 257.67 L197.24 258.25 L196.22 258.81 L195.20 259.37 L194.17 259.93 L193.14 260.49 L192.11 261.03 L191.07 261.58 L190.03 262.12 L188.99 262.66 L187.94 263.19 L186.90 263.72 L185.85 264.25 L184.79 264.77 L183.74 265.30 L182.68 265.81 L181.62 266.33 L180.56 266.84 L179.50 267.35 L178.44 267.86 L177.38 268.37 L176.31 268.87 L175.24 269.37 L174.17 269.87 L173.11 270.37 L172.04 270.87 L170.97 271.37 L169.90 271.86 L168.83 272.36 L167.76 272.85 L166.69 273.34 L165.62 273.84 L164.55 274.33 L163.48 274.82 L162.41 275.31 L161.34 275.80 L160.27 276.29 L159.20 276.78 L158.14 277.28 L157.07 277.77 L156.01 278.26 L154.95 278.76 L153.89 279.25 L152.83 279.75 L151.78 280.25 L150.72 280.74 L149.67 281.25 L148.62 281.75 L147.57 282.25 L146.53 282.76 L145.49 283.27 L144.45 283.78 L143.41 284.29 L142.38 284.81 L141.35 285.33 L140.33 285.85 L139.30 286.37 L138.28 286.90 L137.27 287.43 L136.26 287.96 L135.25 288.50 L134.25 289.04 L133.25 289.59 L132.26 290.14 L131.27 290.69 L130.28 291.25 L129.30 291.81 L128.33 292.38" fill="none" stroke="#000" stroke-width="2.6" clip-path="url(#cp)"/>
<path d="M58.50 246.43 H369.00" stroke="#000" stroke-width="1.4" stroke-dasharray="3.7 0.8 0.7 0.8" stroke-dashoffset="1.65" opacity="0.62"/>
<path d="M84.38 291.00v-2.40M84.38 31.00v2.40M110.25 291.00v-4.50M110.25 31.00v4.50M136.12 291.00v-2.40M136.12 31.00v2.40M162.00 291.00v-4.50M162.00 31.00v4.50M187.87 291.00v-2.40M187.87 31.00v2.40M213.75 291.00v-4.50M213.75 31.00v4.50M239.62 291.00v-2.40M239.62 31.00v2.40M265.50 291.00v-4.50M265.50 31.00v4.50M291.38 291.00v-2.40M291.38 31.00v2.40M317.25 291.00v-4.50M317.25 31.00v4.50M343.12 291.00v-2.40M343.12 31.00v2.40M58.50 263.14h2.40M369.00 263.14h-2.40M58.50 235.29h4.50M369.00 235.29h-4.50M58.50 207.44h2.40M369.00 207.44h-2.40M58.50 179.58h4.50M369.00 179.58h-4.50M58.50 151.72h2.40M369.00 151.72h-2.40M58.50 123.87h4.50M369.00 123.87h-4.50M58.50 96.01h2.40M369.00 96.01h-2.40M58.50 68.16h4.50M369.00 68.16h-4.50" stroke="#000" stroke-width="1" fill="none"/>
<rect x="58.50" y="31.00" width="310.50" height="260.00" fill="none" stroke="#000" stroke-width="1"/>
<path d="M58.50 31.00V291.00" stroke="#000" stroke-width="1"/>
<rect x="376.90" y="31.00" width="15.90" height="260.00" fill="url(#g)" stroke="#000" stroke-width="0.6"/>
<path d="M376.90 258.50h3.5M392.80 258.50h-3.5M376.90 226.00h3.5M392.80 226.00h-3.5M376.90 193.50h3.5M392.80 193.50h-3.5M376.90 161.00h3.5M392.80 161.00h-3.5M376.90 128.50h3.5M392.80 128.50h-3.5M376.90 96.00h3.5M392.80 96.00h-3.5M376.90 63.50h3.5M392.80 63.50h-3.5" stroke="#000" stroke-width="0.9" fill="none"/>
<g font-size="14" letter-spacing="0.3">
<text x="401" y="296.60">0.10</text>
<text x="401" y="264.10">0.11</text>
<text x="401" y="231.60">0.12</text>
<text x="401" y="199.10">0.13</text>
<text x="401" y="166.60">0.14</text>
<text x="401" y="134.10">0.15</text>
<text x="401" y="101.60">0.16</text>
<text x="401" y="69.10">0.17</text>
<text x="401" y="36.60">0.18</text>
<text x="58.50" y="314.1" text-anchor="middle">0.100</text>
<text x="110.25" y="314.1" text-anchor="middle">0.110</text>
<text x="162.00" y="314.1" text-anchor="middle">0.120</text>
<text x="213.75" y="314.1" text-anchor="middle">0.130</text>
<text x="265.50" y="314.1" text-anchor="middle">0.140</text>
<text x="317.25" y="314.1" text-anchor="middle">0.150</text>
<text x="369.00" y="314.1" text-anchor="middle">0.160</text>
<text x="47.5" y="295.60" text-anchor="end">0.10</text>
<text x="47.5" y="239.89" text-anchor="end">0.15</text>
<text x="47.5" y="184.18" text-anchor="end">0.20</text>
<text x="47.5" y="128.47" text-anchor="end">0.25</text>
<text x="47.5" y="72.76" text-anchor="end">0.30</text>
<text x="213.8" y="335.3" text-anchor="middle">C</text>
<text transform="translate(13.5 161) rotate(-90)" text-anchor="middle">q</text>
<text x="151" y="12.5" letter-spacing="0">M<tspan font-size="11.7" dy="4">b,tor</tspan><tspan dy="-4">/M</tspan><tspan font-size="11.7" dy="4">b,NS</tspan><tspan dy="-4"> for a=0</tspan></text>
</g>
<g font-size="11.2">
<text x="61" y="50.8">0.18</text>
<text x="121" y="151.7">0.11</text>
<text x="136" y="177.0">0.10</text>
<text x="309.4" y="93.6">0.01</text>
</g>
</svg></body></html>
